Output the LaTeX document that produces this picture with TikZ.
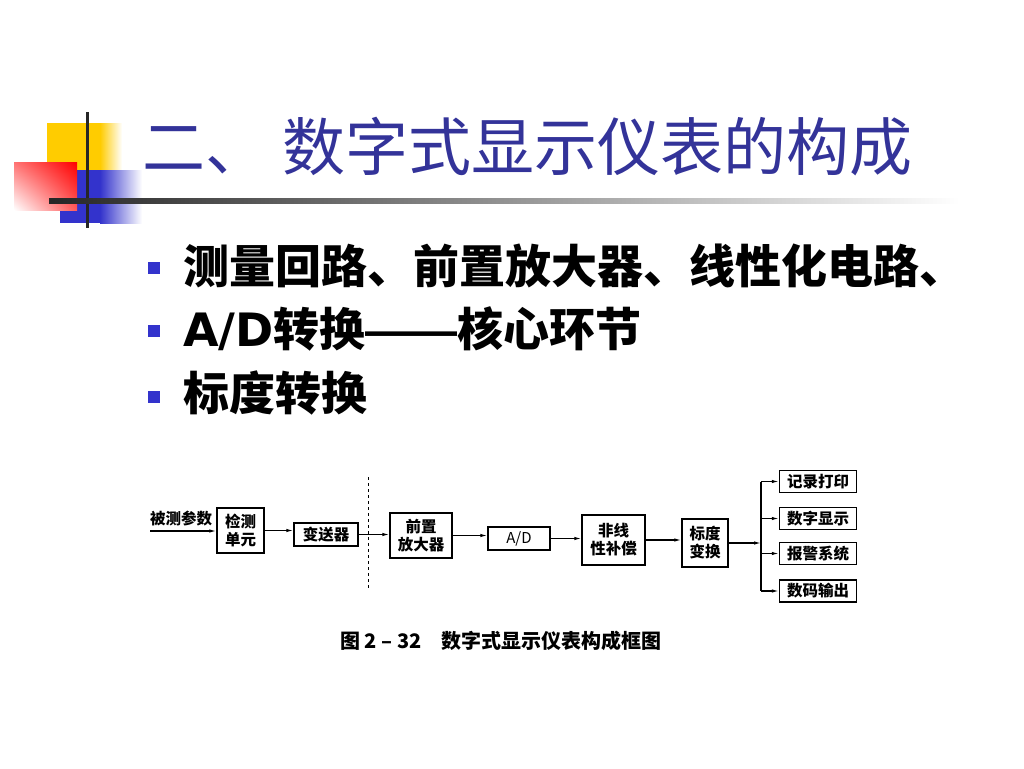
\documentclass[tikz,border=0pt]{standalone}
\usepackage{fontspec}
\newfontfamily\cjk{Noto Sans CJK SC}
\newfontfamily\latinb{DejaVu Sans}
\newfontfamily\dashfont{Liberation Sans}
\usetikzlibrary{arrows.meta,shadings}
\definecolor{titleblue}{HTML}{333399}
\definecolor{bulletblue}{HTML}{3333CC}
\definecolor{decoyellow}{HTML}{FFCC00}
\definecolor{decoblue}{HTML}{3333CC}

\begin{document}
\begin{tikzpicture}[x=1pt,y=-1pt,font=\cjk,
  box/.style={draw,line width=1.5pt,inner sep=1pt,align=center,font={\cjk\bfseries\fontsize{15.5}{18}\selectfont}},
  flow/.style={-{Latex[length=7pt,width=3.5pt]},line width=1.1pt},
  bulletsq/.style={fill=bulletblue,minimum size=12pt,inner sep=0pt},
  item/.style={anchor=base west,inner sep=0pt,font={\cjk\bfseries\fontsize{46}{50}\selectfont}}]
\useasboundingbox (0,0) rectangle (1024,768);

% corner decoration
\fill[decoyellow] (47,123) rectangle (100,172);
\shade[left color=decoyellow,right color=white] (100,123) rectangle (122,172);
\fill[decoblue] (60,170) rectangle (100,223);
\shade[left color=decoblue,right color=white] (100,170) rectangle (142,223);
\shade[upper right=red,upper left=red!55!white,lower right=red!65!white,lower left=white] (14,162) rectangle (77,210);
\draw[line width=3pt,black!85] (87,112) -- (87,228);
\shade[left color=black!85,middle color=black!55,right color=white] (49,198) rectangle (960,203);

% title and bullets
\node[anchor=base west,inner sep=0pt,text=titleblue,font={\cjk\fontsize{63}{68}\selectfont}] (title) at (142,170) {二、 数字式显示仪表的构成};
\node[bulletsq] (b1) at (154,268) {};
\node[bulletsq] (b2) at (154,331) {};
\node[bulletsq] (b3) at (154,397) {};
\node[item] (t1) at (183,283) {测量回路、前置放大器、线性化电路、};
\node[item] (t2) at (183,346) {{\latinb\bfseries A/D}转换{\dashfont ——}核心环节};
\node[item] (t3) at (183,410) {标度转换};

% block diagram
\node[box,minimum width=47pt,minimum height=45pt] (jc) at (240.5,530.5) {检测\\单元};
\node[box,minimum width=64pt,minimum height=23pt] (bs) at (326,534.5) {变送器};
\node[box,minimum width=62pt,minimum height=45pt] (qz) at (421,535.5) {前置\\放大器};
\node[box,minimum width=62pt,minimum height=23pt,font={\cjk\fontsize{15}{18}\selectfont}] (ad) at (519,538.5) {A/D};
\node[box,minimum width=63pt,minimum height=50pt] (fx) at (613.5,540) {非线\\性补偿};
\node[box,minimum width=46pt,minimum height=48pt] (bd) at (705,543) {标度\\变换};
\node[box,minimum width=77pt,minimum height=22pt] (o1) at (818,481.5) {记录打印};
\node[box,minimum width=77pt,minimum height=22pt] (o2) at (818,518.5) {数字显示};
\node[box,minimum width=77pt,minimum height=22pt] (o3) at (818,553.5) {报警系统};
\node[box,minimum width=77pt,minimum height=22pt] (o4) at (818,591) {数码输出};

\node[font={\cjk\bfseries\fontsize{15.5}{18}\selectfont}] (cs) at (181,519) {被测参数};
\coordinate (in) at (150,531);
\coordinate (bus) at (761,543);

\draw[flow] (in) -- (in -| jc.west);
\draw[flow] (jc.east) -- (jc.east -| bs.west);
\draw[flow] (bs.east) -- (bs.east -| qz.west);
\draw[flow] (qz.east) -- (qz.east -| ad.west);
\draw[flow] (ad.east) -- (ad.east -| fx.west);
\draw[flow] (fx.east) -- (fx.east -| bd.west);
\draw[flow] (bd.east) -- (bus);
\draw[line width=1.1pt] (bus |- o1) -- (bus |- o4);
\foreach \o in {o1,o2,o3,o4}
  \draw[flow] (bus |- \o.west) -- (\o.west);

\draw[dashed,line width=1pt] (368,477) -- (368,590);

\node[font={\cjk\bfseries\fontsize{20}{23}\selectfont}] (cap) at (501,641) {图 2 – 32\quad 数字式显示仪表构成框图};

\end{tikzpicture}
\end{document}
